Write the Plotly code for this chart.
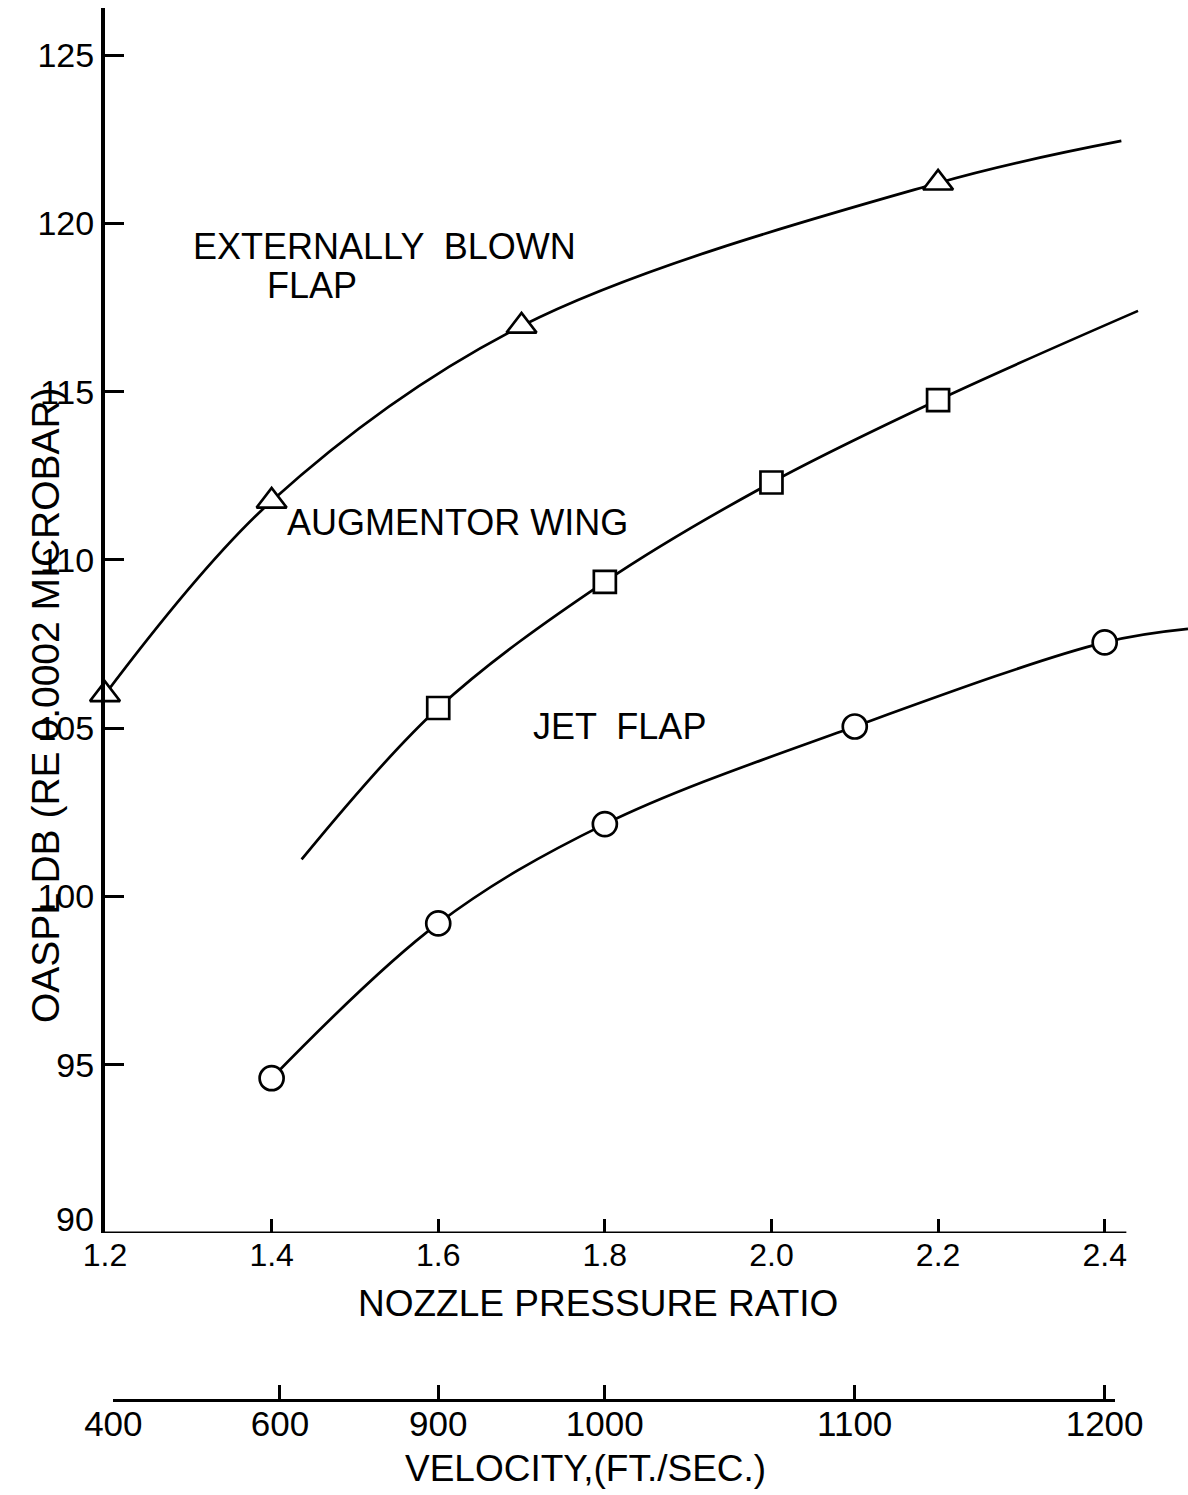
import plotly.graph_objects as go

# ---------------- data ----------------
# Externally blown flap (triangles)
ebf_npr = [1.2, 1.4, 1.7, 2.2]
ebf_oaspl = [106.0, 111.75, 116.95, 121.2]
ebf_curve_npr = [1.2, 1.4, 1.7, 2.2, 2.42]
ebf_curve_oaspl = [106.0, 111.75, 116.95, 121.2, 122.45]

# Augmentor wing (squares)
aug_npr = [1.6, 1.8, 2.0, 2.2]
aug_oaspl = [105.6, 109.35, 112.3, 114.75]
aug_curve_npr = [1.436, 1.6, 1.8, 2.0, 2.2, 2.44]
aug_curve_oaspl = [101.1, 105.6, 109.35, 112.3, 114.75, 117.4]

# Jet flap (circles)
jet_npr = [1.4, 1.6, 1.8, 2.1, 2.4]
jet_oaspl = [94.6, 99.2, 102.15, 105.05, 107.55]
jet_curve_npr = [1.4, 1.6, 1.8, 2.1, 2.4, 2.5]
jet_curve_oaspl = [94.6, 99.2, 102.15, 105.05, 107.55, 107.95]

# axis ticks
npr_ticks = [1.2, 1.4, 1.6, 1.8, 2.0, 2.2, 2.4]
npr_ticktext = ["1.2", "1.4", "1.6", "1.8", "2.0", "2.2", "2.4"]
oaspl_ticks = [90, 95, 100, 105, 110, 115, 120, 125]
velocity_labels = ["400", "600", "900", "1000", "1100", "1200"]
velocity_at_npr = [1.21, 1.41, 1.60, 1.80, 2.10, 2.40]

# ---------------- figure ----------------
FONT = "Liberation Sans, Arial, sans-serif"
W, H = 1188, 1495
ML, MR, MT, MB = 105, 0, 8, 0
PH = H - MT - MB
PW = W - ML - MR


def paper_y(py):
    return (H - MB - py) / PH


def paper_x(px):
    return (px - ML) / PW


fig = go.Figure()

line_style = dict(color="black", width=2.7, shape="spline", smoothing=1.0)

for cx, cy in [(ebf_curve_npr, ebf_curve_oaspl),
               (aug_curve_npr, aug_curve_oaspl),
               (jet_curve_npr, jet_curve_oaspl)]:
    fig.add_trace(go.Scatter(x=cx, y=cy, mode="lines", line=line_style,
                             hoverinfo="skip", showlegend=False))

marker_line = dict(color="black", width=2.7)
fig.add_trace(go.Scatter(x=ebf_npr, y=ebf_oaspl, mode="markers", showlegend=False,
                         cliponaxis=False,
                         marker=dict(symbol="triangle-up", size=26, color="white",
                                     line=marker_line)))
fig.add_trace(go.Scatter(x=aug_npr, y=aug_oaspl, mode="markers", showlegend=False,
                         cliponaxis=False,
                         marker=dict(symbol="square", size=22, color="white",
                                     line=marker_line)))
fig.add_trace(go.Scatter(x=jet_npr, y=jet_oaspl, mode="markers", showlegend=False,
                         cliponaxis=False,
                         marker=dict(symbol="circle", size=24, color="white",
                                     line=marker_line)))

# invisible trace so that the velocity axis is created
fig.add_trace(go.Scatter(x=velocity_at_npr, y=[None] * len(velocity_at_npr),
                         xaxis="x2", yaxis="y", mode="markers",
                         marker=dict(opacity=0), hoverinfo="skip", showlegend=False))

y_bottom_px = 1233
y_dom0 = paper_y(y_bottom_px)
vel_px_start, vel_px_end = 113, 1115

fig.update_layout(
    width=W, height=H,
    autosize=False,
    margin=dict(l=ML, r=MR, t=MT, b=MB, pad=0, autoexpand=False),
    paper_bgcolor="white", plot_bgcolor="rgba(0,0,0,0)",
    font=dict(family=FONT, color="black", size=32),
    xaxis=dict(
        range=[1.2, 2.5], domain=[0, 1], anchor="y", automargin=False,
        showgrid=False, zeroline=False, showline=False,
        tickvals=npr_ticks, ticktext=npr_ticktext,
        ticks="inside", ticklen=14, tickwidth=2.5, tickcolor="black",
        tickfont=dict(size=32, family=FONT),
    ),
    xaxis2=dict(
        domain=[paper_x(vel_px_start), paper_x(vel_px_end)],
        range=[1.2 + (vel_px_start - ML) / 833.0, 1.2 + (vel_px_end - ML) / 833.0],
        anchor="free", position=paper_y(1400), automargin=False,
        showgrid=False, zeroline=False, showline=True, linecolor="black", linewidth=3,
        tickvals=velocity_at_npr, ticktext=velocity_labels,
        ticks="inside", ticklen=14, tickwidth=2.5, tickcolor="black",
        ticklabelstandoff=-8,
        tickfont=dict(size=35, family=FONT),
    ),
    yaxis=dict(
        range=[90, 126.4], domain=[y_dom0, 1], anchor="x", automargin=False,
        showgrid=False, zeroline=False, showline=True, linecolor="black", linewidth=4,
        tickvals=oaspl_ticks, ticktext=["" if v == 90 else str(v) for v in oaspl_ticks],
        ticks="inside", ticklen=19, tickwidth=3, tickcolor="black",
        tickfont=dict(size=34, family=FONT),
    ),
    shapes=[
        # x (nozzle pressure ratio) axis line, shorter than the plotting area
        dict(type="line", xref="x", yref="y", x0=1.2, x1=2.426, y0=90, y1=90,
             line=dict(color="black", width=3)),
    ],
)

ann_font = dict(family=FONT, size=36, color="black")
annotations = [
    dict(x=1.535, y=119.3, xref="x", yref="y", text="EXTERNALLY  BLOWN", showarrow=False,
         font=ann_font, xanchor="center", yanchor="middle"),
    dict(x=1.448, y=118.15, xref="x", yref="y", text="FLAP", showarrow=False,
         font=ann_font, xanchor="center", yanchor="middle"),
    dict(x=1.6226, y=111.12, xref="x", yref="y", text="AUGMENTOR WING", showarrow=False,
         font=ann_font, xanchor="center", yanchor="middle"),
    dict(x=1.818, y=105.06, xref="x", yref="y", text="JET  FLAP", showarrow=False,
         font=ann_font, xanchor="center", yanchor="middle"),
    # lowest y tick label sits just above the corner
    dict(x=paper_x(96), y=90, xref="paper", yref="y", yshift=14,
         text="90", showarrow=False, font=dict(family=FONT, size=34, color="black"),
         xanchor="right", yanchor="middle"),
    # axis titles
    dict(x=paper_x(598), y=paper_y(1303), xref="paper", yref="paper",
         text="NOZZLE PRESSURE RATIO", showarrow=False,
         font=dict(family=FONT, size=37, color="black"), xanchor="center", yanchor="middle"),
    dict(x=paper_x(585), y=paper_y(1468), xref="paper", yref="paper",
         text="VELOCITY,(FT./SEC.)", showarrow=False,
         font=dict(family=FONT, size=37, color="black"), xanchor="center", yanchor="middle"),
    dict(x=paper_x(45), y=paper_y(705), xref="paper", yref="paper",
         text="OASPL DB (RE 0.0002 MICROBAR)", showarrow=False, textangle=-90,
         font=dict(family=FONT, size=39, color="black"), xanchor="center", yanchor="middle"),
]
fig.update_layout(annotations=annotations)

fig.write_html("out.html")
